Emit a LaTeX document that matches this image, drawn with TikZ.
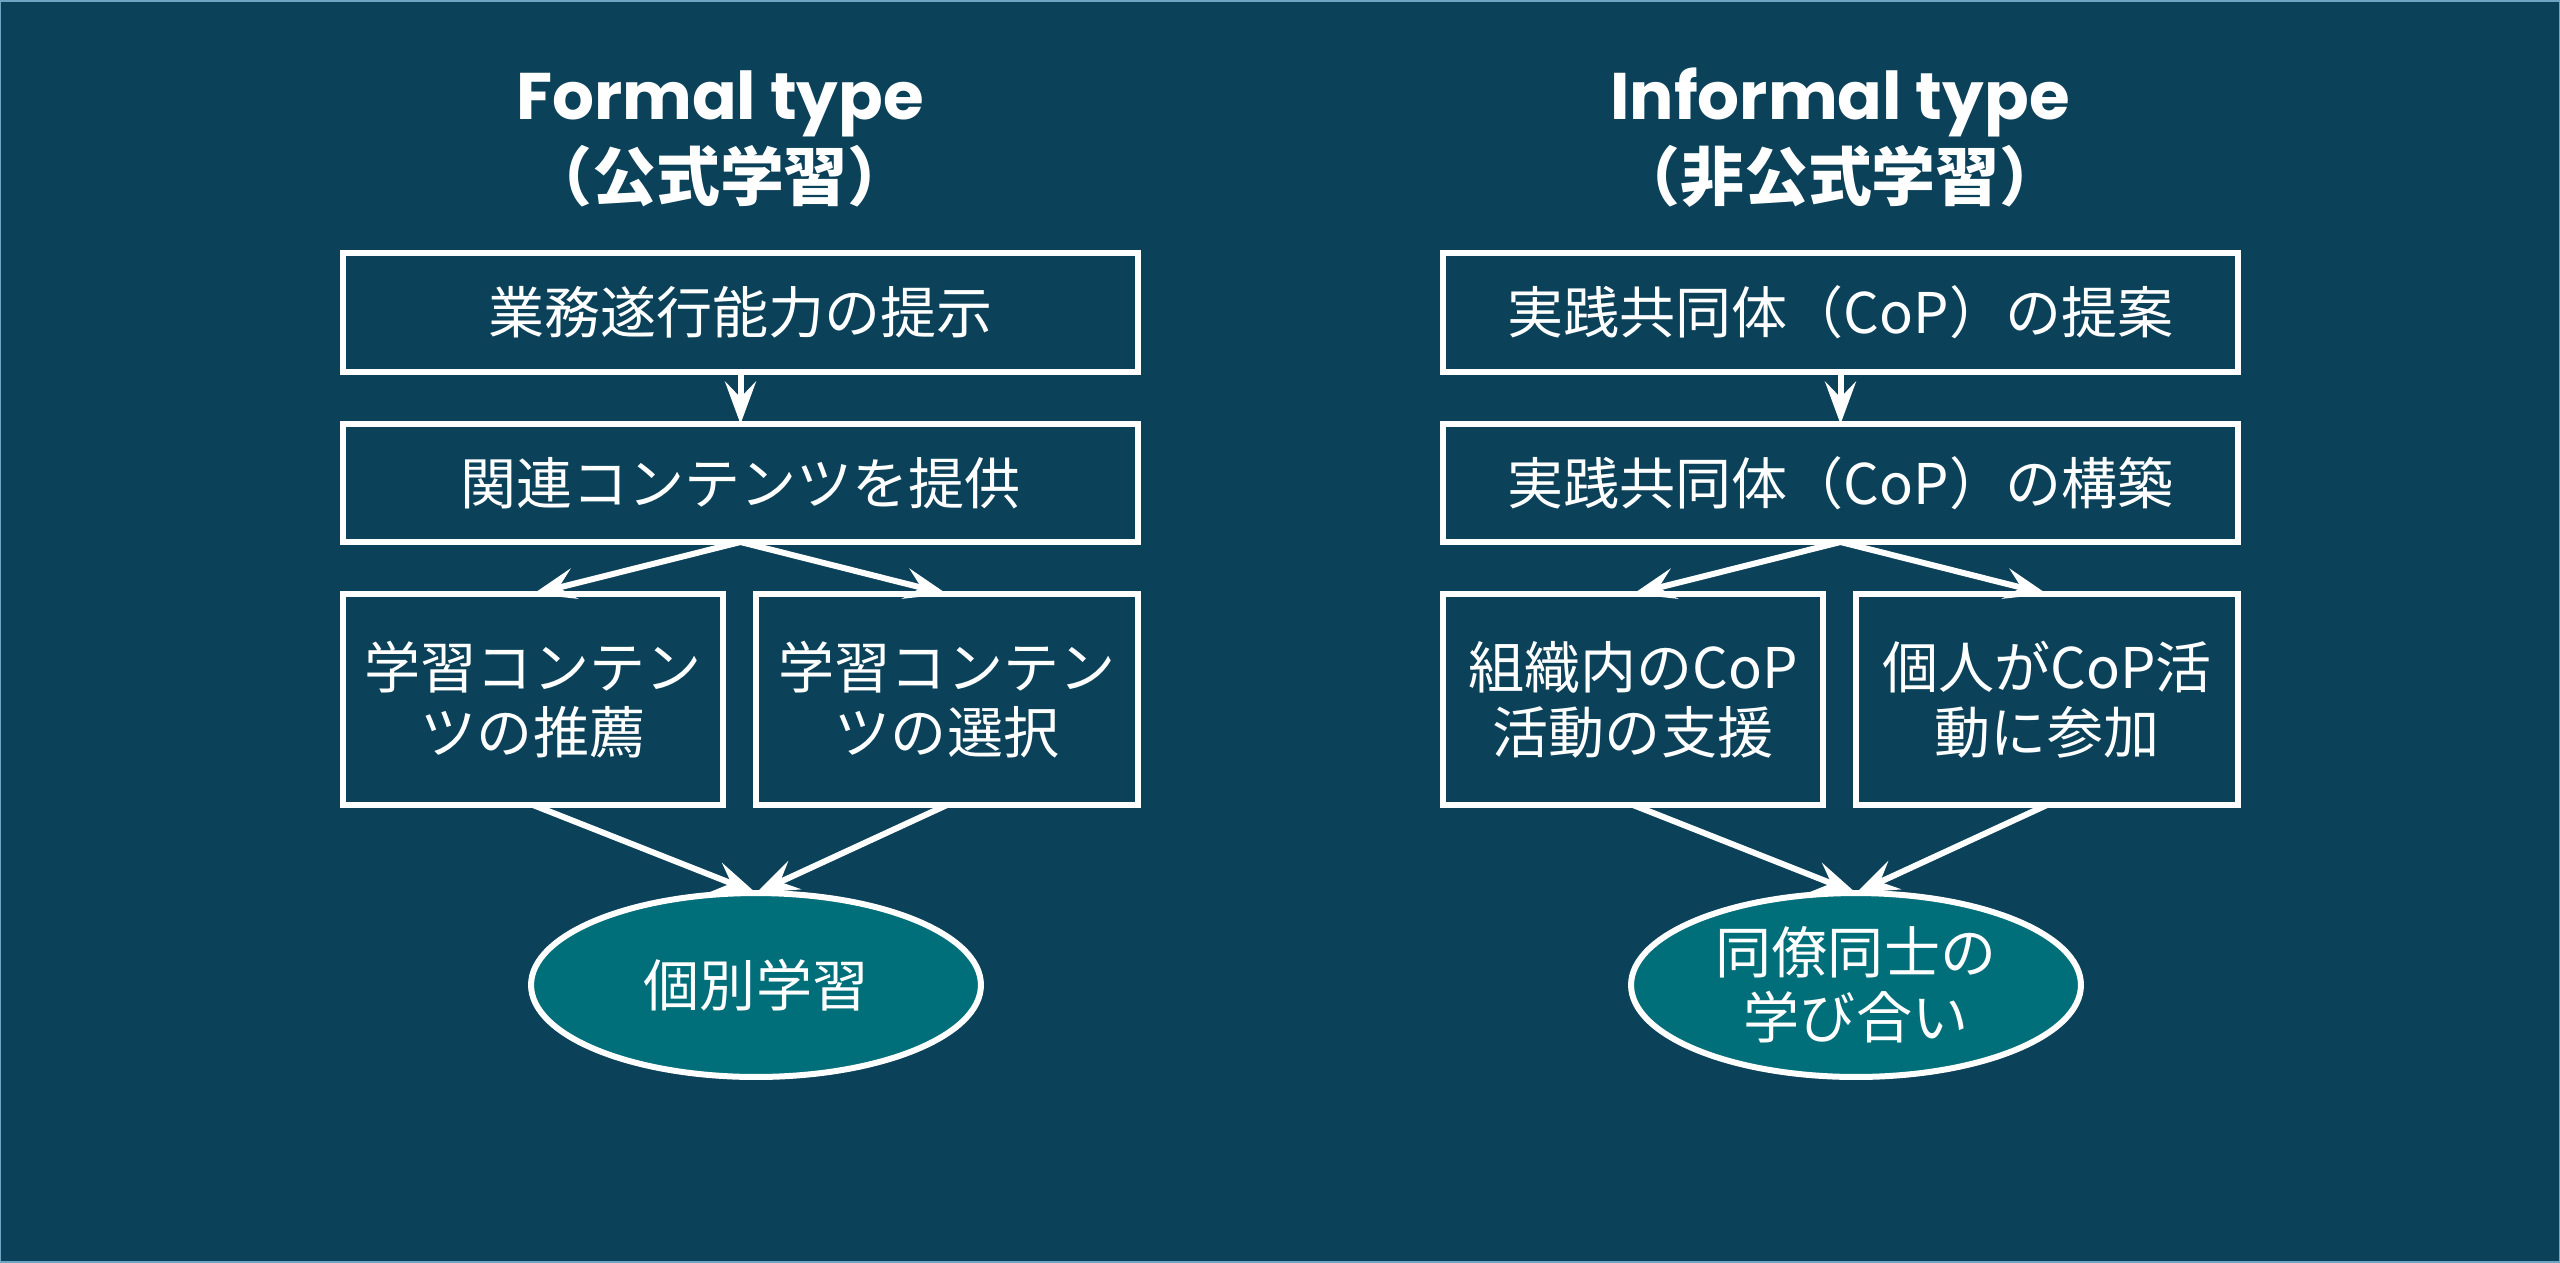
\documentclass[tikz,border=0pt]{standalone}
\usepackage{fontspec}
\setmainfont{Poppins}
\newfontfamily\jp{Noto Sans CJK JP}
\usetikzlibrary{arrows.meta,shapes.geometric}
\definecolor{bg}{RGB}{11,65,89}
\definecolor{ellfill}{RGB}{0,111,122}
\definecolor{edgec}{RGB}{110,165,195}
\begin{document}
\begin{tikzpicture}[x=0.02cm,y=-0.02cm,
  box/.style={draw=white, line width=0.13cm, fill=bg, text=white,
    font=\jp\fontsize{31.9pt}{37pt}\selectfont, align=center, inner sep=0pt, outer sep=0pt},
  oval/.style={ellipse, draw=white, line width=0.12cm, fill=ellfill, text=white,
    font=\jp\fontsize{31.9pt}{37pt}\selectfont, align=center, inner sep=0pt, outer sep=0pt,
    minimum width=9.0cm, minimum height=3.68cm},
  ttl/.style={text=white, inner sep=0pt, anchor=base},
  arr/.style={draw=white, line width=0.12cm, -{Stealth[length=0.85cm,width=0.62cm,inset=0.32cm]}}]
\useasboundingbox (0,0) rectangle (2560,1262);
\fill[bg] (0,0) rectangle (2560,1262);
\draw[edgec, line width=0.04cm] (0.5,0.5) rectangle (2559.5,1261.5);

% ---------- Formal ----------
\node[ttl, font=\bfseries\fontsize{37.5pt}{40pt}\selectfont] (t1a) at (720,119) {Formal type};
\node[ttl, font=\jp\bfseries\fontsize{36.4pt}{40pt}\selectfont] (t1b) at (720,200) {（公式学習）};

\node[box, minimum width=15.9cm, minimum height=2.38cm] (a1) at (740.5,312.5) {業務遂行能力の提示};
\node[box, minimum width=15.9cm, minimum height=2.36cm] (a2) at (740.5,483) {関連コンテンツを提供};
\node[box, minimum width=7.6cm, minimum height=4.22cm] (a3) at (533,699.5) {学習コンテン\\ツの推薦};
\node[box, minimum width=7.64cm, minimum height=4.22cm] (a4) at (947,699.5) {学習コンテン\\ツの選択};
\node[oval] (a5) at (756,985) {個別学習};

\draw[arr] (a1.south) -- (a2.north);
\draw[arr] (a2.south) -- (a3.north);
\draw[arr] (a2.south) -- (a4.north);
\draw[arr] (a3.south) -- (a5.north);
\draw[arr] (a4.south) -- (a5.north);

% ---------- Informal ----------
\node[ttl, font=\bfseries\fontsize{37.5pt}{40pt}\selectfont] (t2a) at (1840,119) {Informal type};
\node[ttl, font=\jp\bfseries\fontsize{36.4pt}{40pt}\selectfont] (t2b) at (1840,200) {（非公式学習）};

\node[box, minimum width=15.9cm, minimum height=2.38cm] (b1) at (1840.5,312.5) {実践共同体（CoP）の提案};
\node[box, minimum width=15.9cm, minimum height=2.36cm] (b2) at (1840.5,483) {実践共同体（CoP）の構築};
\node[box, minimum width=7.6cm, minimum height=4.22cm] (b3) at (1633,699.5) {組織内のCoP\\活動の支援};
\node[box, minimum width=7.64cm, minimum height=4.22cm] (b4) at (2047,699.5) {個人がCoP活\\動に参加};
\node[oval] (b5) at (1856,985) {同僚同士の\\学び合い};

\draw[arr] (b1.south) -- (b2.north);
\draw[arr] (b2.south) -- (b3.north);
\draw[arr] (b2.south) -- (b4.north);
\draw[arr] (b3.south) -- (b5.north);
\draw[arr] (b4.south) -- (b5.north);
\end{tikzpicture}
\end{document}
